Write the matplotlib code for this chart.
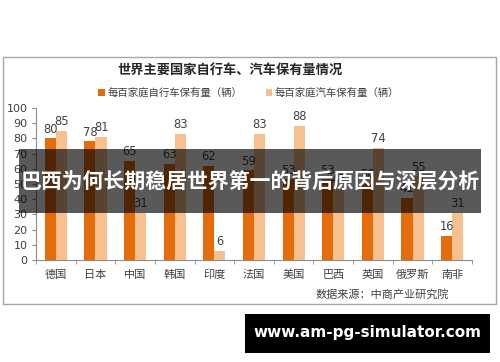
import numpy as np
import matplotlib.pyplot as plt
import matplotlib.patches as mpatches

plt.rcParams['font.family'] = ['Noto Sans CJK SC', 'DejaVu Sans']

# ── Dados ─────────────────────────────────────────────────────────────────────
countries = ['德国', '日本', '中国', '韩国', '印度', '法国', '美国', '巴西', '英国', '俄罗斯', '南非']
bikes = [80, 78, 65, 63, 62, 59, 53, 53, 50, 41, 16]
cars = [85, 81, 31, 83, 6, 83, 88, 47, 74, 55, 31]
yticks = [0, 10, 20, 30, 40, 50, 60, 70, 80, 90, 100]

COLORS = {
    "bike": "#E46C0A",
    "car": "#F9C08F",
    "text": "#404040",
    "axis": "#8C8C8C",
}

W, H = 500, 362
fig = plt.figure(figsize=(W / 100, H / 100), dpi=100)
fig.patch.set_facecolor("white")


def px(x0, y0, x1, y1):
    # converte caixa em pixels (origem no topo) para fração da figura
    return [x0 / W, 1 - y1 / H, (x1 - x0) / W, (y1 - y0) / H]


# moldura do gráfico
frame = mpatches.Rectangle((3 / W, 1 - 304 / H), 493 / W, 247 / H,
                           transform=fig.transFigure, fill=False,
                           edgecolor="#A6A6A6", linewidth=1.0)
fig.patches.append(frame)

ax = fig.add_axes(px(36, 108, 472, 260))
x = np.arange(len(countries))
w = 0.28
b1 = ax.bar(x - w / 2, bikes, w, color=COLORS["bike"], label="每百家庭自行车保有量（辆）")
b2 = ax.bar(x + w / 2, cars, w, color=COLORS["car"], label="每百家庭汽车保有量（辆）")

for bars, vals in ((b1, bikes), (b2, cars)):
    for rect, v in zip(bars, vals):
        ax.annotate(str(v), (rect.get_x() + rect.get_width() / 2, v),
                    xytext=(0, 2), textcoords="offset points",
                    ha="center", va="bottom", fontsize=8.3,
                    color=COLORS["text"], family="DejaVu Sans")

ax.set_xlim(-0.5, len(countries) - 0.5)
ax.set_ylim(0, 100)
ax.set_yticks(yticks)
ax.set_yticklabels([str(t) for t in yticks], fontsize=8, color=COLORS["text"],
                   family="DejaVu Sans")
ax.set_xticks(x)
ax.set_xticklabels(countries, fontsize=8, color=COLORS["text"])
ax.set_xticks(np.arange(-0.5, len(countries)), minor=True)
ax.tick_params(axis="x", which="major", length=0, pad=7)
ax.tick_params(axis="x", which="minor", length=3, color=COLORS["axis"], direction="out")
ax.tick_params(axis="y", length=3, color=COLORS["axis"], pad=3)
for s in ("top", "right"):
    ax.spines[s].set_visible(False)
for s in ("left", "bottom"):
    ax.spines[s].set_color(COLORS["axis"])
    ax.spines[s].set_linewidth(0.8)

fig.text(230 / W, 1 - 70 / H, "世界主要国家自行车、汽车保有量情况",
         ha="center", va="center", fontsize=9.5, fontweight="bold", color="#262626")

fig.legend(handles=[b1, b2], loc="center", bbox_to_anchor=(249 / W, 1 - 93 / H),
           ncol=2, frameon=False, fontsize=7.5, handlelength=0.6, handleheight=0.6,
           handletextpad=0.3, columnspacing=2.2, labelcolor=COLORS["text"])

fig.text(382 / W, 1 - 294 / H, "数据来源：中商产业研究院",
         ha="center", va="center", fontsize=8, color=COLORS["text"])

# faixa escura com o título sobreposto
banner = mpatches.Rectangle((19 / W, 1 - 213 / H), 462 / W, 64 / H,
                            transform=fig.transFigure, facecolor="black",
                            alpha=0.65, edgecolor="none", zorder=10)
fig.patches.append(banner)
fig.text(250 / W, 1 - 182 / H, "巴西为何长期稳居世界第一的背后原因与深层分析",
         ha="center", va="center", fontsize=15, fontweight="bold",
         color="white", zorder=11)

# caixa preta com o endereço
box = mpatches.Rectangle((245 / W, 1 - 353 / H), 245 / W, 39 / H,
                         transform=fig.transFigure, facecolor="black",
                         edgecolor="none", zorder=10)
fig.patches.append(box)
fig.text(367 / W, 1 - 333 / H, "www.am-pg-simulator.com", ha="center", va="center",
         fontsize=11, fontweight="bold", color="white", family="DejaVu Sans", zorder=11)

fig.savefig("out.png", dpi=100)
